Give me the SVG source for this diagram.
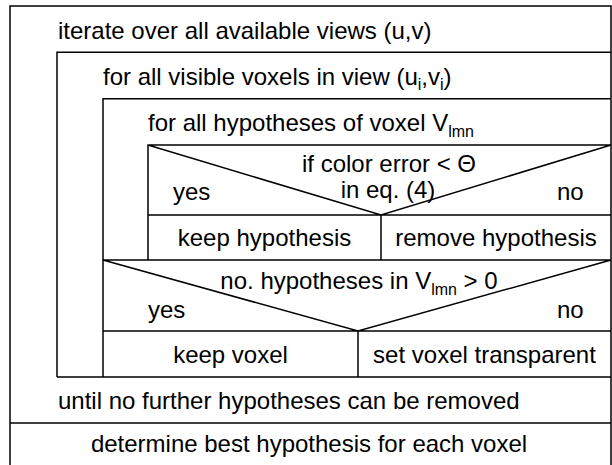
<svg xmlns="http://www.w3.org/2000/svg" width="612" height="465" viewBox="0 0 612 465">
<style>
.ln{stroke:#000;stroke-width:1.5;fill:none}
.t{font-family:"Liberation Sans",Arial,sans-serif;font-size:24px;fill:#000}
.m{text-anchor:middle}
.s{font-size:16px}
</style>
<rect width="612" height="465" fill="#fff"/>
<g id="loop-views">
<path class="ln" d="M10,465 V6 H611 V465"/>
<text class="t" x="58" y="39">iterate over all available views (u,v)</text>
</g>
<g id="loop-voxels">
<path class="ln" d="M57,377 V52.3 H611"/>
<text class="t" x="103" y="85">for all visible voxels in view (u<tspan class="s" dy="5">i</tspan><tspan dy="-5">,v</tspan><tspan class="s" dy="5">i</tspan><tspan dy="-5">)</tspan></text>
</g>
<g id="loop-hypotheses">
<path class="ln" d="M103,377 V98.7 H611"/>
<text class="t" x="148" y="131">for all hypotheses of voxel V<tspan class="s" dy="6">lmn</tspan></text>
</g>
<g id="cond-color">
<path class="ln" d="M148,260 V145 H611 M148,145 L381,215 L611,145 M148,215 H611 M381,215 V260"/>
<text class="t m" x="389" y="172">if color error &lt; Θ</text>
<text class="t m" x="388" y="198">in eq. (4)</text>
<text class="t" x="173" y="200">yes</text>
<text class="t" x="557" y="200">no</text>
<text class="t m" x="264.5" y="246">keep hypothesis</text>
<text class="t m" x="496" y="246">remove hypothesis</text>
</g>
<g id="cond-count">
<path class="ln" d="M103,260 H611 M103,260 L358,331 L611,260 M103,331 H611 M358,331 V377 M57,377 H611"/>
<text class="t m" x="359" y="289">no. hypotheses in V<tspan class="s" dy="6">lmn</tspan><tspan dy="-6"> &gt; 0</tspan></text>
<text class="t" x="148" y="318">yes</text>
<text class="t" x="557" y="318">no</text>
<text class="t m" x="230.5" y="362.5">keep voxel</text>
<text class="t m" x="484.5" y="362.5">set voxel transparent</text>
</g>
<g id="until">
<path class="ln" d="M10,423 H611"/>
<text class="t" x="58" y="408.5">until no further hypotheses can be removed</text>
</g>
<g id="determine">
<text class="t m" x="309" y="452">determine best hypothesis for each voxel</text>
</g>
</svg>
